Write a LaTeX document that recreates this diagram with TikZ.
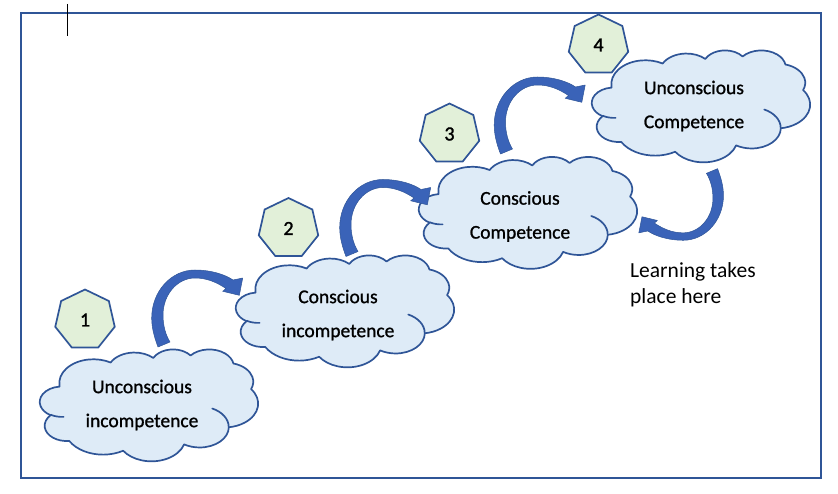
\documentclass[tikz,border=0pt]{standalone}
\usepackage{fontspec}
\setmainfont{Carlito}
\usetikzlibrary{shapes}
\definecolor{frameblue}{HTML}{2F5597}
\definecolor{cloudfill}{HTML}{DEEBF7}
\definecolor{heptfill}{HTML}{E2F0D9}
\definecolor{arrowblue}{HTML}{3A63B8}

\begin{document}
\begin{tikzpicture}[x=1pt,y=-1pt]
\tikzstyle{cloudline}=[draw=frameblue, line width=1.7pt, line join=round, xscale=0.505, yscale=0.259]
\tikzstyle{stagetext}=[align=center, inner sep=0pt, font=\fontsize{19.5}{34}\selectfont\addfontfeature{FakeBold=1}]
\tikzstyle{stagenum}=[regular polygon, regular polygon sides=7, draw=frameblue, line width=1.7pt, fill=heptfill, minimum size=61pt, inner sep=0pt, font=\fontsize{20}{22}\selectfont\addfontfeature{FakeBold=1.5}]
\tikzstyle{bentarrow}=[fill=arrowblue, draw=frameblue, line width=0.5pt, line join=round]
\tikzset{
officecloud/.pic={
\path[cloudline, fill=cloudfill] (-177,-72.3)
  arc[start angle=-187.75, end angle=-59.64, x radius=67.53, y radius=91.90]
  arc[start angle=-152.02, end angle=-45.45, x radius=53.33, y radius=72.67]
  arc[start angle=-153.49, end angle=-37.33, x radius=43.65, y radius=59.45]
  arc[start angle=-139.73, end angle=-10.22, x radius=48.57, y radius=65.95]
  arc[start angle=-74.77, end angle=23.21, x radius=53.33, y radius=72.73]
  arc[start angle=-37.52, end angle=81.86, x radius=67.75, y radius=92.20]
  arc[start angle=0.46, end angle=121.99, x radius=57.85, y radius=78.67]
  arc[start angle=16.85, end angle=146.22, x radius=67.52, y radius=92.15]
  arc[start angle=58.98, end angle=150.18, x radius=77.20, y radius=105.43]
  arc[start angle=83.31, end angle=223.12, x radius=43.60, y radius=59.18]
  arc[start angle=120.35, end angle=264.11, x radius=43.45, y radius=59.45]
  -- cycle;
\path[cloudline, line cap=round] (-169.07,45.77) arc[start angle=85.54, end angle=120.35, x radius=43.45, y radius=59.45];
\path[cloudline, line cap=round] (125.29,13.54) arc[start angle=-64.01, end angle=0.46, x radius=57.85, y radius=78.67];
},
curvarrow/.pic={
\path[bentarrow] (-6,2.5) .. controls (-10,-8) and (-12.3,-17) .. (-12.3,-26.5)
  .. controls (-12.3,-53) and (7,-74.5) .. (31,-74.5)
  .. controls (47,-74.5) and (61,-70) .. (69,-64.5)
  -- (78.7,-66.5) -- (75.3,-49.2) -- (58.7,-53.2) -- (62,-56)
  .. controls (53,-62) and (43,-66.5) .. (31,-66.5)
  .. controls (13.4,-66.5) and (-1,-50) .. (-1,-29.5)
  .. controls (-1,-18) and (2,-9) .. (6,-2.5) -- cycle;
}}
\useasboundingbox (0,0) rectangle (838,494);

\draw[frameblue, line width=2.4pt] (21,13) rectangle (821,478);
\draw[black, line width=0.8pt] (67,4) -- (67,36);

\pic (c1) at (149,405) {officecloud};
\pic (c2) at (345,311) {officecloud};
\pic (c3) at (528,212.5) {officecloud};
\pic (c4) at (701,106) {officecloud};

\node[stagetext] (t1) at (142,405) {Unconscious\\incompetence};
\node[stagetext] (t2) at (338,315) {Conscious\\incompetence};
\node[stagetext] (t3) at (520,216.5) {Conscious\\Competence};
\node[stagetext] (t4) at (694,106) {Unconscious\\Competence};

\node[stagenum] (n1) at (85,320) {1};
\node[stagenum] (n2) at (288.5,228.5) {2};
\node[stagenum] (n3) at (449.5,134) {3};
\node[stagenum] (n4) at (598.5,45) {4};

\pic (a1) at (164,344.5) {curvarrow};
\pic (a2) at (352,254) {curvarrow};
\pic (a3) at (506.5,151.5) {curvarrow};
\pic[rotate=180, scale=0.93] (a4) at (712,171) {curvarrow};

\node[align=left, anchor=north west, inner sep=0pt, font=\fontsize{21.5}{26}\selectfont] (note) at (630,262) {Learning takes\\place here};
\end{tikzpicture}
\end{document}
